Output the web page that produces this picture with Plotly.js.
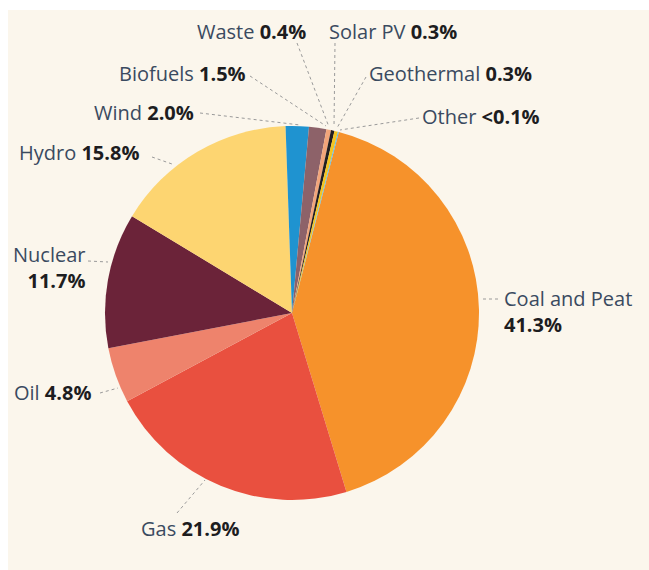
<!DOCTYPE html>
<html>
<head>
<meta charset="utf-8">
<script src="https://cdn.plot.ly/plotly-3.0.1.min.js"></script>
<style>
  html, body { margin: 0; padding: 0; background: #ffffff; width: 649px; height: 570px; overflow: hidden; }
  #chart { position: absolute; left: 8px; top: 10px; width: 641px; height: 560px; }
</style>
</head>
<body>
<div id="chart"></div>
<script>
// ---- data ----
const sources = ["Coal and Peat", "Gas", "Oil", "Nuclear", "Hydro", "Wind", "Biofuels", "Waste", "Solar PV", "Geothermal", "Other"];
const shares = [41.3, 21.9, 4.8, 11.7, 15.8, 2.0, 1.5, 0.4, 0.3, 0.3, 0.08];
const shareLabels = ["41.3%", "21.9%", "4.8%", "11.7%", "15.8%", "2.0%", "1.5%", "0.4%", "0.3%", "0.3%", "<0.1%"];
const sliceColors = ["#F6922B", "#E9503F", "#EE836C", "#6B2339", "#FDD571", "#1F93D0", "#8D6269", "#F2A57A", "#231F20", "#F5C51F", "#5DB8E2"];

// ---- layout helpers (div is 641x560, offset 8,10 in page) ----
const W = 641, H = 560, OX = 8, OY = 10;
const px = x => (x - OX) / W;
const py = y => 1 - (y - OY) / H;

const nameColor = "#3A4A60";
const numColor = "#1D1D1F";
const FONT = "Open Sans, sans-serif";
const FS = 20;

// label placement (page pixel coords)
const labelSpec = [
  {i: 0, x: 502, y: 311, xa: "left", twoLine: true, lead: [[483, 299], [499, 299]]},
  {i: 1, x: 190, y: 528, xa: "center", lead: [[177, 513], [205, 480]]},
  {i: 2, x: 12, y: 392, xa: "left", lead: [[100, 393], [118, 388]]},
  {i: 3, x: 87, y: 268, xa: "right", twoLine: true, lead: [[88, 261], [108, 262]]},
  {i: 4, x: 17, y: 152, xa: "left", lead: [[152, 157], [172, 164]]},
  {i: 5, x: 196, y: 112, xa: "right", lead: [[200, 113], [300, 125]]},
  {i: 6, x: 248, y: 73, xa: "right", lead: [[250, 76], [326, 126]]},
  {i: 7, x: 308, y: 32, xa: "right", lead: [[297, 43], [329, 127]]},
  {i: 8, x: 327, y: 32, xa: "left", lead: [[335, 43], [334, 127]]},
  {i: 9, x: 367, y: 73, xa: "left", lead: [[366, 77], [337, 128]]},
  {i: 10, x: 420, y: 116, xa: "left", lead: [[419, 118], [340, 130]]}
];

const annotations = labelSpec.map(s => {
  const name = `<span style="color:${nameColor}">${sources[s.i]}</span>`;
  const num = `<b style="color:${numColor}">${shareLabels[s.i]}</b>`;
  return {
    xref: "paper", yref: "paper", x: px(s.x), y: py(s.y),
    xanchor: s.xa, yanchor: "middle", showarrow: false,
    align: s.xa === "right" ? "right" : "left",
    text: s.twoLine ? name + "<br>" + num : name + " " + num,
    font: {family: FONT, size: FS, color: nameColor}
  };
});

const shapes = labelSpec.map(s => ({
  type: "line", xref: "paper", yref: "paper", layer: "above",
  x0: px(s.lead[0][0]), y0: py(s.lead[0][1]),
  x1: px(s.lead[1][0]), y1: py(s.lead[1][1]),
  line: {color: "#9A9A9A", width: 1, dash: "dot"}
}));

// pie geometry in page px: centre (292,313), radius 186
const cx = 292, cy = 313, r = 187;

const trace = {
  type: "pie",
  labels: sources,
  values: shares,
  sort: false,
  direction: "clockwise",
  rotation: 14.5,
  textinfo: "none",
  hoverinfo: "label+percent",
  marker: {colors: sliceColors, line: {width: 0}},
  domain: {x: [px(cx - r), px(cx + r)], y: [py(cy + r), py(cy - r)]},
  showlegend: false
};

const layout = {
  width: W, height: H,
  margin: {l: 0, r: 0, t: 0, b: 0},
  paper_bgcolor: "#FBF6EC",
  plot_bgcolor: "#FBF6EC",
  showlegend: false,
  annotations: annotations,
  shapes: shapes
};

Plotly.newPlot("chart", [trace], layout, {displayModeBar: false, staticPlot: true});
</script>
</body>
</html>
